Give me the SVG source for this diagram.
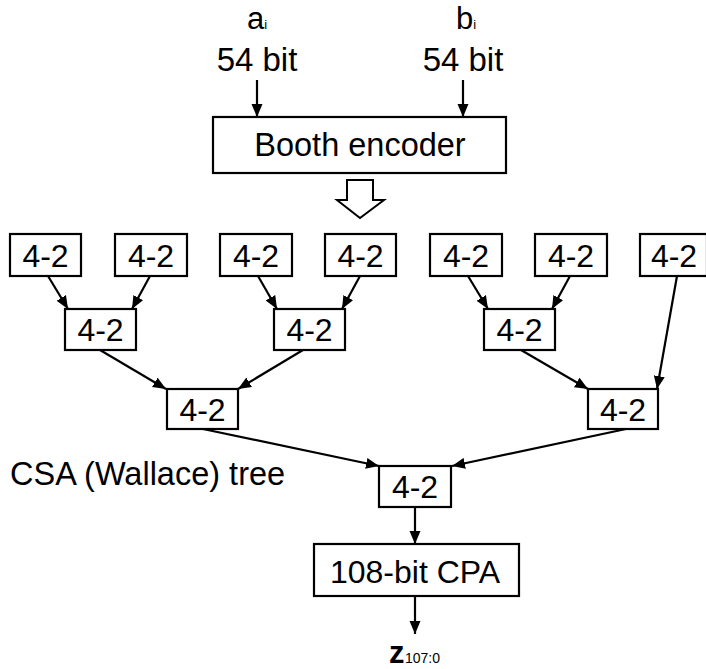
<svg xmlns="http://www.w3.org/2000/svg" width="706" height="669" viewBox="0 0 706 669">
<defs>
<marker id="ah" markerUnits="userSpaceOnUse" markerWidth="14" markerHeight="12" refX="13" refY="6" orient="auto" viewBox="0 0 14 12">
<path d="M0,0.5 L13,6 L0,11.5 z" fill="#000"/>
</marker>
</defs>
<style>
rect{fill:#fff;stroke:#000;stroke-width:2.2}
text{font-family:"Liberation Sans",Arial,Helvetica,sans-serif;fill:#000}
.t{font-size:32px;text-anchor:middle}
.l{font-size:33px}
.c line{stroke:#000;stroke-width:2.2;marker-end:url(#ah)}
</style>
<rect x="0" y="0" width="706" height="669" style="stroke:none"/>
<g id="label-a">
<text x="247" y="29" class="l" style="font-size:31px">a<tspan font-size="13">i</tspan></text>
<text x="257" y="71" class="t" style="font-size:33px">54 bit</text>
</g>
<g id="label-b">
<text x="456" y="29" class="l" style="font-size:31px">b<tspan font-size="13">i</tspan></text>
<text x="463" y="71" class="t" style="font-size:33px">54 bit</text>
</g>
<g id="booth"><rect x="213" y="117" width="293" height="56"/><text x="360" y="156" class="t" style="font-size:32.5px">Booth encoder</text></g>
<g id="hollow-arrow"><polygon points="347,180 373,180 373,200 384,200 360,218 337,200 347,200" fill="#fff" stroke="#000" stroke-width="2" stroke-linejoin="miter"/></g>
<g id="t1"><rect x="10" y="234" width="71" height="42"/><text x="45.5" y="266.5" class="t">4-2</text></g>
<g id="t2"><rect x="115" y="234" width="72" height="42"/><text x="151" y="266.5" class="t">4-2</text></g>
<g id="t3"><rect x="220" y="234" width="72" height="42"/><text x="256" y="266.5" class="t">4-2</text></g>
<g id="t4"><rect x="325" y="234" width="71" height="42"/><text x="360.5" y="266.5" class="t">4-2</text></g>
<g id="t5"><rect x="430" y="234" width="72" height="42"/><text x="466" y="266.5" class="t">4-2</text></g>
<g id="t6"><rect x="535" y="234" width="72" height="42"/><text x="571" y="266.5" class="t">4-2</text></g>
<g id="t7"><rect x="640" y="234" width="67" height="42"/><text x="674" y="266.5" class="t">4-2</text></g>
<g id="m1"><rect x="65" y="309" width="71" height="41"/><text x="100.5" y="341" class="t">4-2</text></g>
<g id="m2"><rect x="274" y="309" width="71" height="41"/><text x="309.5" y="341" class="t">4-2</text></g>
<g id="m3"><rect x="484" y="309" width="71" height="41"/><text x="519.5" y="341" class="t">4-2</text></g>
<g id="d1"><rect x="167" y="389" width="71" height="40"/><text x="202.5" y="420.5" class="t">4-2</text></g>
<g id="d2"><rect x="588" y="389" width="70" height="40"/><text x="623" y="420.5" class="t">4-2</text></g>
<g id="f"><rect x="379" y="466" width="72" height="41"/><text x="415" y="498" class="t">4-2</text></g>
<g id="cpa"><rect x="314" y="544" width="205" height="52"/><text x="415" y="583" class="t" style="font-size:32px">108-bit CPA</text></g>
<g id="csa-label"><text x="10" y="485" class="l" style="font-size:32.5px">CSA (Wallace) tree</text></g>
<g id="z-label"><text x="389" y="663" style="font-size:31px;font-weight:bold">z</text><text x="405" y="663" style="font-size:14px">107:0</text></g>
<g id="connectors" class="c">
<line x1="257" y1="80" x2="257" y2="117"/>
<line x1="463" y1="80" x2="463" y2="117"/>
<line x1="48" y1="276" x2="68" y2="309"/>
<line x1="150" y1="276" x2="132" y2="309"/>
<line x1="258" y1="276" x2="277" y2="309"/>
<line x1="360" y1="276" x2="342" y2="309"/>
<line x1="468" y1="276" x2="488" y2="309"/>
<line x1="570" y1="276" x2="552" y2="309"/>
<line x1="677" y1="276" x2="657" y2="389"/>
<line x1="100" y1="350" x2="166" y2="389"/>
<line x1="303" y1="350" x2="238" y2="389"/>
<line x1="521" y1="350" x2="588" y2="389"/>
<line x1="203" y1="429" x2="379" y2="466"/>
<line x1="626" y1="429" x2="452" y2="466"/>
<line x1="415" y1="507" x2="415" y2="544"/>
<line x1="415" y1="596" x2="415" y2="634"/>
</g>
</svg>
